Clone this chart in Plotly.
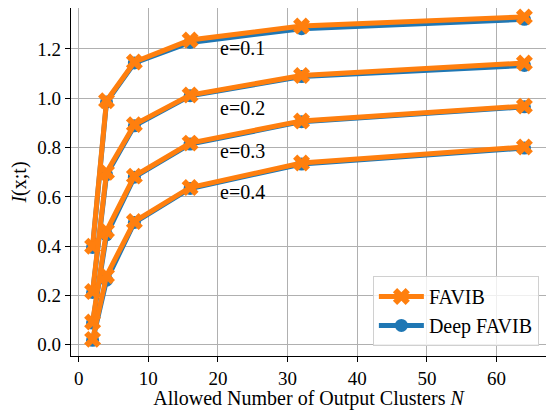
import plotly.graph_objects as go

clusters = [2, 4, 8, 16, 32, 64]
e_labels = ["e=0.1", "e=0.2", "e=0.3", "e=0.4"]
favib = [
    [0.40, 0.99, 1.147, 1.236, 1.293, 1.330],
    [0.216, 0.70, 0.893, 1.013, 1.092, 1.143],
    [0.092, 0.462, 0.684, 0.818, 0.908, 0.968],
    [0.022, 0.280, 0.500, 0.638, 0.737, 0.802],
]
deep_favib = [
    [0.395, 0.985, 1.143, 1.226, 1.282, 1.320],
    [0.212, 0.690, 0.888, 1.010, 1.088, 1.133],
    [0.088, 0.446, 0.680, 0.814, 0.905, 0.965],
    [0.018, 0.262, 0.496, 0.634, 0.733, 0.798],
]
label_x = [20, 20, 20, 20]
label_y = [1.205, 0.962, 0.787, 0.618]

ORANGE = "#ff7f0e"
BLUE = "#1f77b4"
FONT = "Liberation Serif, Times New Roman, serif"

fig = go.Figure()
for i, ys in enumerate(deep_favib):
    fig.add_trace(go.Scatter(
        x=clusters, y=ys, mode="lines+markers", name="Deep FAVIB",
        legendgroup="deep", showlegend=(i == 0), legendrank=2,
        line=dict(color=BLUE, width=5),
        marker=dict(symbol="circle", size=13, color=BLUE),
    ))
for i, ys in enumerate(favib):
    fig.add_trace(go.Scatter(
        x=clusters, y=ys, mode="lines+markers", name="FAVIB",
        legendgroup="favib", showlegend=(i == 0), legendrank=1,
        line=dict(color=ORANGE, width=5),
        marker=dict(symbol="x", size=15, color=ORANGE),
    ))

for lx, ly, t in zip(label_x, label_y, e_labels):
    fig.add_annotation(x=lx, y=ly, text=t, showarrow=False,
                       xanchor="left", yanchor="middle",
                       font=dict(family=FONT, size=20, color="black"))

axis_common = dict(
    showgrid=True, gridcolor="#b0b0b0", gridwidth=1,
    showline=True, linecolor="black", linewidth=1.2, mirror=True,
    ticks="outside", ticklen=5, tickcolor="black", zeroline=False,
    automargin=False,
    tickfont=dict(family=FONT, size=19, color="black"),
)

# The page body adds an 8px offset, so the figure is sized and placed to compensate.
fig.update_layout(
    width=546, height=402,
    margin=dict(l=63, r=8, t=0, b=54),
    paper_bgcolor="white", plot_bgcolor="white",
    font=dict(family=FONT, size=19, color="black"),
    xaxis=dict(range=[-1.1, 67.1], tickvals=[0, 10, 20, 30, 40, 50, 60],
               title=dict(text="Allowed Number of Output Clusters <i>N</i>",
                          font=dict(family=FONT, size=20), standoff=3),
               **axis_common),
    yaxis=dict(range=[-0.0455, 1.366], tickvals=[0, 0.2, 0.4, 0.6, 0.8, 1.0, 1.2],
               tickformat=".1f",
               title=dict(text="<i>I</i>(x;t)", font=dict(family=FONT, size=20), standoff=6),
               **axis_common),
    legend=dict(x=0.985, y=0.029, xanchor="right", yanchor="bottom",
                bgcolor="rgba(255,255,255,0.8)", bordercolor="#d0d0d0", borderwidth=1,
                font=dict(family=FONT, size=20), itemwidth=45,
                tracegroupgap=0),
    showlegend=True,
)

fig.write_html("out.html")
